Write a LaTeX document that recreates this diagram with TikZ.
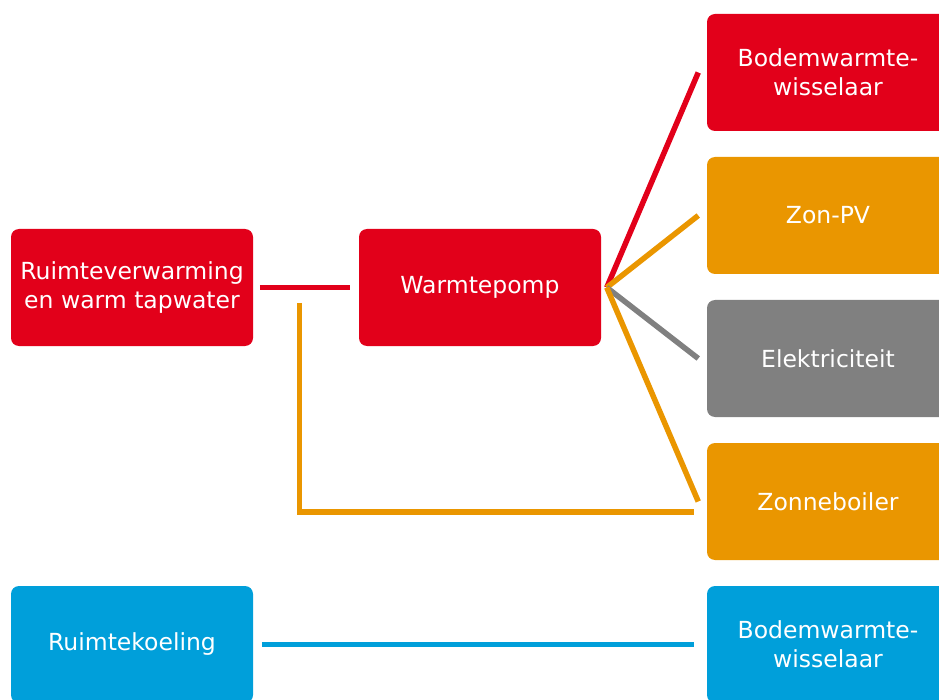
\documentclass[tikz,border=0pt]{standalone}
\usepackage{fontspec}
\setmainfont{DejaVu Sans}
\definecolor{wpred}{HTML}{E2001A}
\definecolor{wporange}{HTML}{EA9600}
\definecolor{wpgray}{HTML}{808080}
\definecolor{wpblue}{HTML}{009FDA}
\begin{document}
\begin{tikzpicture}[x=1pt, y=-1pt, line width=5.5pt,
    main node/.style={rectangle, rounded corners=8pt, minimum width=242pt, minimum height=117pt, inner sep=0pt, align=center, text=white, font=\fontsize{23.5}{29}\selectfont},
    red node/.style={main node, fill=wpred},
    orange node/.style={main node, fill=wporange},
    gray node/.style={main node, fill=wpgray},
    blue node/.style={main node, fill=wpblue}]

                    \useasboundingbox (0, 0) rectangle (939, 700);
                    \clip (0, 0) rectangle (939, 700);

                    \node[red node] at (132, 287.5) (verw) {Ruimteverwarming\\en warm tapwater};
                    \node[red node] at (480, 287.5) (pomp) {Warmtepomp};
                    \node[red node] at (828, 72.5) (bodem1) {Bodemwarmte-\\wisselaar};
                    \node[orange node] at (828, 215.5) (pv) {Zon-PV};
                    \node[gray node] at (828, 358.5) (elek) {Elektriciteit};
                    \node[orange node] at (828, 501.5) (boiler) {Zonneboiler};
                    \node[blue node] at (132, 644.5) (koel) {Ruimtekoeling};
                    \node[blue node] at (828, 644.5) (bodem2) {Bodemwarmte-\\wisselaar};

                    \coordinate (hub) at ([xshift=3pt]pomp.east);
                    \coordinate (tap) at (299.5, 303);

                    \path[wpred] ([xshift=4pt]verw.east) edge ([xshift=-6pt]pomp.west);
                    \path[wpred] (hub) edge ([xshift=-6pt]bodem1.west);
                    \path[wporange] (hub) edge ([xshift=-6pt]pv.west);
                    \path[wpgray] (hub) edge ([xshift=-6pt]elek.west);
                    \path[wporange] (hub) edge ([xshift=-6pt]boiler.west);
                    \draw[wporange] (tap) |- ([xshift=-10pt, yshift=-10.5pt]boiler.west);
                    \path[wpblue] ([xshift=6pt]koel.east) edge ([xshift=-10pt]bodem2.west);

                \end{tikzpicture}
\end{document}
